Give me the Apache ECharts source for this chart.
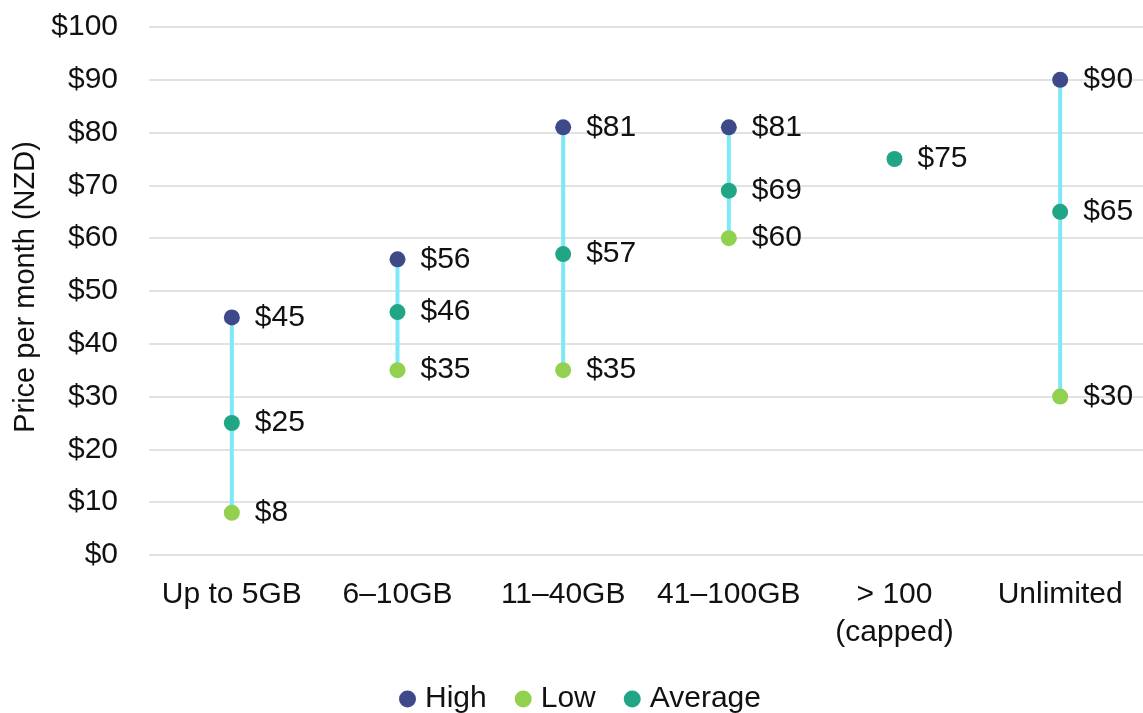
<!DOCTYPE html>
<html>
<head>
<meta charset="utf-8">
<style>
  html, body { margin: 0; padding: 0; background: #fff; }
  #chart { width: 1143px; height: 713px; }
</style>
<script src="https://cdn.jsdelivr.net/npm/echarts@6/dist/echarts.min.js"></script>
</head>
<body>
<div id="chart"></div>
<script>
// Mobile plan prices per month by data allowance (NZD)
const categories = ['Up to 5GB', '6–10GB', '11–40GB', '41–100GB', '> 100\n(capped)', 'Unlimited'];
const highValues = [45, 56, 81, 81, null, 90];
const lowValues = [8, 35, 35, 60, null, 30];
const averageValues = [25, 46, 57, 69, 75, 65];
const yTicks = { min: 0, max: 100, interval: 10 };

const FONT = '"Liberation Sans", Arial, sans-serif';
const FS = 30;
const COLORS = { high: '#3E4989', low: '#92D14F', average: '#21A685', range: '#7EE8F8' };

const rangeData = categories.map((c, i) => [i, lowValues[i], highValues[i]]);

const pointLabel = {
  show: true,
  position: 'right',
  distance: 15,
  color: '#111',
  fontSize: FS,
  fontFamily: FONT,
  formatter: p => '$' + Math.round(p.value)
};

const chart = echarts.init(document.getElementById('chart'));
chart.setOption({
  animation: false,
  grid: { left: 149, width: 996, top: 27, bottom: 158, containLabel: false },
  legend: {
    top: 684,
    left: 399,
    padding: 0,
    icon: 'circle',
    itemWidth: 17,
    itemHeight: 17,
    itemGap: 28,
    data: ['High', 'Low', 'Average'],
    textStyle: { fontSize: FS, color: '#111', fontFamily: FONT, padding: [0, 0, 0, 4] }
  },
  xAxis: {
    type: 'category',
    data: categories,
    axisLine: { show: false },
    axisTick: { show: false },
    axisLabel: {
      margin: 21,
      fontSize: FS,
      color: '#111',
      fontFamily: FONT,
      lineHeight: 38,
      interval: 0
    }
  },
  yAxis: {
    type: 'value',
    min: yTicks.min,
    max: yTicks.max,
    interval: yTicks.interval,
    name: 'Price per month (NZD)',
    nameLocation: 'middle',
    nameGap: 109,
    nameTextStyle: { fontSize: 29, color: '#111', fontFamily: FONT, padding: [0, 0, 0, 8] },
    axisLine: { show: false },
    axisTick: { show: false },
    splitLine: { lineStyle: { color: '#D9D9D9', width: 1.5 } },
    axisLabel: {
      margin: 31,
      fontSize: FS,
      color: '#111',
      fontFamily: FONT,
      formatter: v => '$' + v
    }
  },
  series: [
    {
      name: 'Range',
      type: 'custom',
      z: 1,
      silent: true,
      data: rangeData,
      encode: { x: 0, y: [1, 2] },
      renderItem: (params, api) => {
        const lo = api.value(1), hi = api.value(2);
        if (lo == null || hi == null || isNaN(lo) || isNaN(hi)) return null;
        const a = api.coord([api.value(0), lo]);
        const b = api.coord([api.value(0), hi]);
        return {
          type: 'line',
          shape: { x1: a[0], y1: a[1], x2: b[0], y2: b[1] },
          style: { stroke: COLORS.range, lineWidth: 4 }
        };
      }
    },
    {
      name: 'High', type: 'scatter', z: 3, symbolSize: 16,
      itemStyle: { color: COLORS.high, opacity: 1 },
      data: highValues, label: pointLabel
    },
    {
      name: 'Low', type: 'scatter', z: 3, symbolSize: 16,
      itemStyle: { color: COLORS.low, opacity: 1 },
      data: lowValues, label: pointLabel
    },
    {
      name: 'Average', type: 'scatter', z: 3, symbolSize: 16,
      itemStyle: { color: COLORS.average, opacity: 1 },
      data: averageValues, label: pointLabel
    }
  ]
});
</script>
</body>
</html>
